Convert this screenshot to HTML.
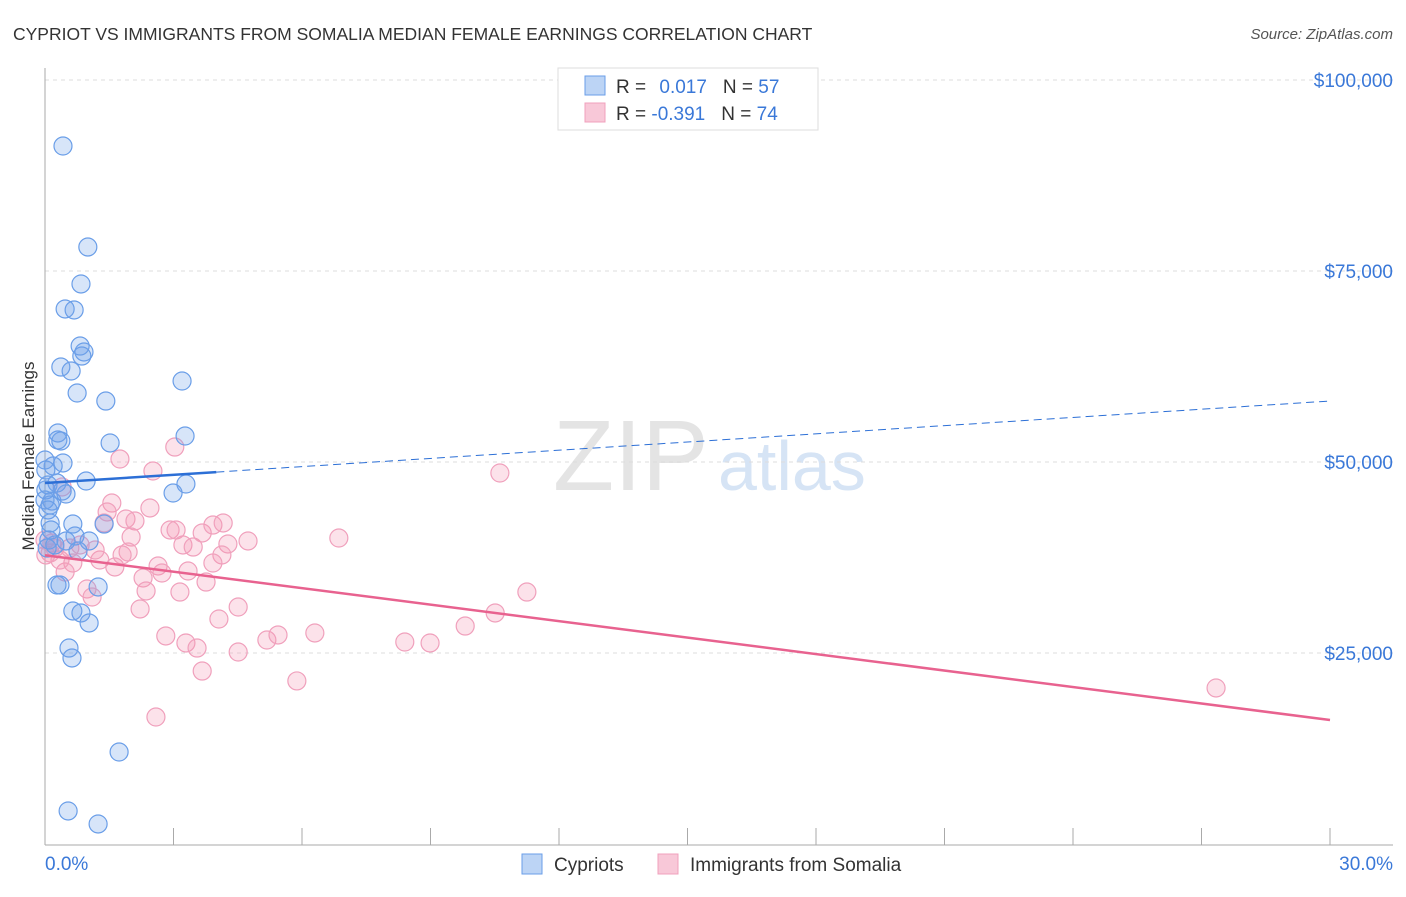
<!DOCTYPE html>
<html><head><meta charset="utf-8"><style>
body{margin:0;background:#fff;font-family:"Liberation Sans",sans-serif}
svg text{font-family:"Liberation Sans",sans-serif}
</style></head><body>
<svg id="chart" width="1406" height="892">
<text x="13" y="40" font-size="17.5" fill="#333">CYPRIOT VS IMMIGRANTS FROM SOMALIA MEDIAN FEMALE EARNINGS CORRELATION CHART</text>
<text x="1393" y="39" font-size="15" fill="#555" font-style="italic" text-anchor="end">Source: ZipAtlas.com</text>
<text x="0" y="0" transform="translate(34,456) rotate(-90)" font-size="17" fill="#333" text-anchor="middle">Median Female Earnings</text>
<g><text x="553" y="490" font-size="100" fill="#e4e4e4" font-family="Liberation Serif">ZIP</text><text x="718" y="490" font-size="70" fill="#d6e4f5">atlas</text></g>
<g id="grid"></g><g id="axes"></g><g id="marks"></g>
<g>
<rect x="558" y="68" width="260" height="62" fill="#fff" stroke="#ddd"/>
<rect x="585" y="76" width="20" height="19" fill="#bcd4f5" stroke="#6a9ee8"/>
<rect x="585" y="103" width="20" height="19" fill="#f8c8d8" stroke="#f0a0bc"/>
<text x="616" y="93" font-size="19" fill="#333">R = <tspan fill="#3a78d8" dx="8">0.017</tspan><tspan dx="16">N = </tspan><tspan fill="#3a78d8">57</tspan></text>
<text x="616" y="120" font-size="19" fill="#333">R = <tspan fill="#3a78d8">-0.391</tspan><tspan dx="16">N = </tspan><tspan fill="#3a78d8">74</tspan></text>
</g>
<g>
<rect x="522" y="854" width="20" height="20" fill="#bcd4f5" stroke="#6a9ee8"/>
<text x="554" y="871" font-size="19" fill="#333">Cypriots</text>
<rect x="658" y="854" width="20" height="20" fill="#f8c8d8" stroke="#f0a0bc"/>
<text x="690" y="871" font-size="19" fill="#333">Immigrants from Somalia</text>
</g>
</svg>
<script>
const yTicks=[25000,50000,75000,100000];
const yTickLabels=["$25,000","$50,000","$75,000","$100,000"];
const xTickCount=[0,3,6,9,12,15,18,21,24,27,30];
const xLabels=["0.0%","30.0%"];
const blueX=[0.42,1.00,0.84,0.47,0.68,0.82,0.91,0.86,0.37,0.61,0.75,1.42,3.20,1.52,0.30,0.30,0.37,0.42,0.19,0.28,0.07,0.16,0.12,0.49,0.96,0.40,1.38,0.65,0.12,0.09,3.27,2.99,3.29,0,0.07,0.23,0.05,0.70,1.03,0.49,0.28,1.24,0.65,0.84,1.03,0.56,0.63,1.73,0.54,1.24,0,0.02,0.14,0.77,0.35,0.02];
const blueY=[91360,78140,73300,70030,69900,65180,64400,63870,62430,61910,59030,57980,60600,52490,53800,52880,52750,49870,49480,47250,46990,44890,44370,45810,47510,46200,41880,41880,42020,39790,53400,45940,47120,45030,43720,39140,38740,40310,39660,39660,33900,33640,30500,30240,28930,25650,24350,12040,4320,2620,50260,48950,41100,38350,33900,46340];
const pinkX=[3.03,1.75,2.52,1.56,1.45,1.38,2.45,1.89,2.10,2.01,1.94,1.80,2.92,3.06,3.22,3.46,3.67,3.92,4.16,4.27,4.74,4.13,3.92,3.34,3.76,3.15,2.64,2.73,2.29,2.36,2.22,0.98,1.10,1.28,0.65,0.47,0.35,0.16,0.12,4.51,4.06,2.82,3.29,3.55,4.51,5.18,5.44,6.30,3.67,5.88,2.59,0.40,6.86,8.40,8.99,9.81,10.51,11.25,27.34,10.62,0,0.02,0.23,0.58,0.82,1.17,1.63];
const pinkY=[51960,50390,48820,44630,43460,42020,43980,42540,42280,40180,38220,37830,41100,41100,39140,38870,40710,41750,42020,39270,39660,37830,36780,35730,34290,32980,36390,35470,34820,33120,30760,33380,32330,37170,36780,35600,37170,39400,38090,31020,29450,27230,26310,25650,25130,26700,27360,27620,22640,21340,16620,46730,40050,26440,26310,28530,30240,32980,20420,48560,39790,37830,38740,38740,39140,38480,36260];
const blueTrend=[47250,57980];
const pinkTrend=[37800,16230];
const X0=45,X1=1330,YB=844,YPX=191/25000;
const sx=v=>X0+(v/30)*(X1-X0), sy=v=>YB-v*YPX;
const NS="http://www.w3.org/2000/svg";
function mk(tag,parent,attrs){const e=document.createElementNS(NS,tag);for(const k in attrs)e.setAttribute(k,attrs[k]);parent.appendChild(e);return e;}
const grid=document.getElementById('grid'),axes=document.getElementById('axes'),marks=document.getElementById('marks');
yTicks.forEach((t,i)=>{
 const l=mk('line',grid,{x1:45,x2:1393,y1:sy(t),y2:sy(t),stroke:'#ddd','stroke-dasharray':'4,4'});
 
 
 const tx=mk('text',grid,{x:1393,y:sy(t)+7,'font-size':19,fill:'#3a78d8','text-anchor':'end'});
 tx.textContent=yTickLabels[i];
 
 
});
const ya=mk('line',axes,{x1:45,x2:45,y1:68,y2:845,stroke:'#aaa'});


const xa=mk('line',axes,{x1:45,x2:1393,y1:845,y2:845,stroke:'#aaa'});


xTickCount.forEach(t=>{
 const l=mk('line',axes,{x1:sx(t),x2:sx(t),y1:828,y2:845,stroke:'#aaa'});
 
 
});
const xl0=mk('text',axes,{x:45,y:870,'font-size':19,fill:'#3a78d8'});xl0.textContent=xLabels[0];


const xl1=mk('text',axes,{x:1393,y:870,'font-size':19,fill:'#3a78d8','text-anchor':'end'});xl1.textContent=xLabels[1];


pinkX.forEach((v,i)=>{
 const c=mk('circle',marks,{cx:sx(v),cy:sy(pinkY[i]),r:9,fill:'rgba(244,150,180,0.28)',stroke:'#f0a0bc','stroke-width':1.2});
 
 
});
blueX.forEach((v,i)=>{
 const c=mk('circle',marks,{cx:sx(v),cy:sy(blueY[i]),r:9,fill:'rgba(110,160,235,0.28)',stroke:'#6a9ee8','stroke-width':1.2});
 
 
});
const bAt=x=>blueTrend[0]+(blueTrend[1]-blueTrend[0])*x/30;
const b1=mk('line',marks,{x1:sx(0),y1:sy(bAt(0)),x2:sx(4),y2:sy(bAt(4)),stroke:'#2c6fd6','stroke-width':2.5});


const b2=mk('line',marks,{x1:sx(4),y1:sy(bAt(4)),x2:sx(30),y2:sy(bAt(30)),stroke:'#2c6fd6','stroke-width':1,'stroke-dasharray':'8,5'});


const p1=mk('line',marks,{x1:sx(0),y1:sy(pinkTrend[0]),x2:sx(30),y2:sy(pinkTrend[1]),stroke:'#e8628f','stroke-width':2.5});


</script>
</body></html>
